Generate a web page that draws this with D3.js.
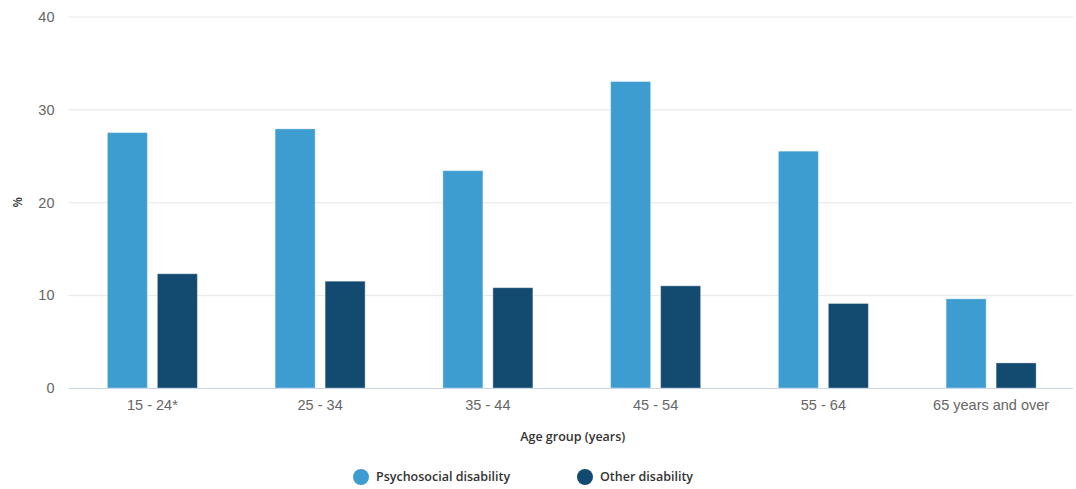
<!DOCTYPE html>
<html><head><meta charset="utf-8">
<script src="https://cdn.jsdelivr.net/npm/d3@7"></script>
<style>body{margin:0;background:#fff;}svg{display:block;font-family:"Open Sans",sans-serif;}</style>
</head><body><svg id="c" width="1076" height="489"></svg>
<script>
const categories = ["15 - 24*","25 - 34","35 - 44","45 - 54","55 - 64","65 years and over"];
const seriesNames = ["Psychosocial disability","Other disability"];
const psychosocial = [27.5,27.9,23.4,33.0,25.5,9.6];
const other = [12.3,11.5,10.8,11.0,9.1,2.7];
const colors = ["#3d9dd1","#134a70"];
const yTicks = [0,10,20,30,40];

const svg = d3.select("#c");
const m = {l:68.5,r:1075,t:16.5,b:388};
const x = d3.scaleBand().domain(categories).range([m.l,m.r]);
const y = d3.scaleLinear().domain([0,40]).range([m.b,m.t]);

// grid
svg.append("g").selectAll("line").data(yTicks.filter(d=>d>0)).join("line")
  .attr("x1",m.l).attr("x2",1073).attr("y1",d=>y(d)+0.5).attr("y2",d=>y(d)+0.5)
  .attr("stroke","#e6e6e6").attr("stroke-width",1);

const ya = svg.append("g").attr("transform",`translate(${m.l},0)`)
  .call(d3.axisLeft(y).tickValues(yTicks).tickSize(0).tickPadding(14));
ya.select(".domain").remove();
ya.selectAll("text").attr("fill","#666").style("font-size","14.5px").attr("dy","0.33em");

const data = [psychosocial, other];
const bw = 40, gap = 10;
data.forEach((vals,si)=>{
  svg.append("g").selectAll("rect").data(vals).join("rect")
    .attr("x",(d,i)=>x(categories[i])+x.bandwidth()/2 + (si===0 ? -(gap/2+bw) : gap/2))
    .attr("width",bw)
    .attr("y",d=>y(d)).attr("height",d=>y(0)-y(d))
    .attr("fill",colors[si]).attr("stroke","rgba(255,255,255,0.35)").attr("stroke-width",1);
});

const xa = svg.append("g").attr("transform",`translate(0,${m.b})`)
  .call(d3.axisBottom(x).tickSize(0).tickPadding(12));
xa.select(".domain").attr("stroke","#ccd6eb").attr("d",`M${m.l},0.5H1073`);
xa.selectAll("text").attr("fill","#666").style("font-size","14.5px");

svg.append("text").attr("x",(m.l+m.r)/2+1).attr("y",441).attr("text-anchor","middle")
  .attr("fill","#333").style("font-size","12.5px").style("font-weight","600").text("Age group (years)");
svg.append("text").attr("transform",`translate(22,${(m.t+m.b)/2}) rotate(-90)`).attr("text-anchor","middle")
  .attr("fill","#333").style("font-size","12px").style("font-weight","600").text("%");

const legendX = [361,585];
const lg = svg.append("g").selectAll("g").data(seriesNames).join("g")
  .attr("transform",(d,i)=>`translate(${legendX[i]},477)`);
lg.append("circle").attr("r",8).attr("fill",(d,i)=>colors[i]);
lg.append("text").attr("x",15).attr("dy","0.35em").attr("fill","#333")
  .style("font-size","12.5px").style("font-weight","600").text(d=>d);
</script></body></html>
